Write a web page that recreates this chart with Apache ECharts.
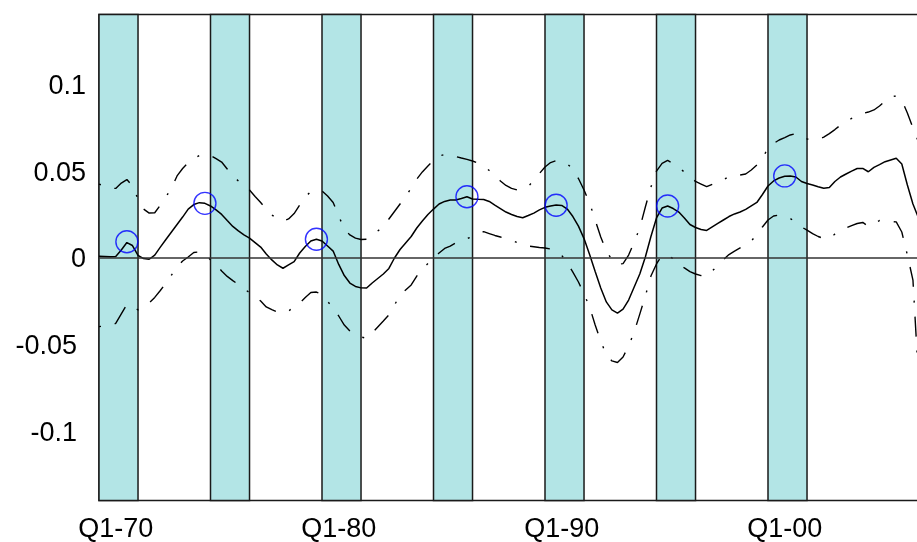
<!DOCTYPE html>
<html><head><meta charset="utf-8">
<script src="https://cdn.jsdelivr.net/npm/echarts@6/dist/echarts.min.js"></script>
<style>html,body{margin:0;padding:0;background:#fff;overflow:hidden;width:917px;height:542px}#c{width:940px;height:542px}</style>
</head><body><div id="c"></div><script>
// Quarterly categories Q2-69 ... (149 quarters)
const startYear = 1969, startQuarter = 2, nQuarters = 149;
const categories = [];
for (let i = 0; i < nQuarters; i++) {
  const k = startQuarter - 1 + i;
  categories.push('Q' + (k % 4 + 1) + '-' + String((startYear + Math.floor(k / 4)) % 100).padStart(2, '0'));
}
const xTickLabels = ['Q1-70', 'Q1-80', 'Q1-90', 'Q1-00'];
const yTickLabels = [-0.1, -0.05, 0, 0.05, 0.1];

const estimate = [
  0.0007, 0.0006, 0.0005, 0.0006, 0.0043, 0.0086, 0.0069, 0.0012, -0.0006, -0.0010,
  0.0014, 0.0060, 0.0104, 0.0147, 0.0190, 0.0233, 0.0279, 0.0305, 0.0316, 0.0312,
  0.0297, 0.0274, 0.0248, 0.0213, 0.0179, 0.0153, 0.0130, 0.0112, 0.0086, 0.0060,
  0.0020, -0.0014, -0.0043, -0.0062, -0.0043, -0.0024, 0.0026, 0.0063, 0.0095, 0.0105,
  0.0095, 0.0066, 0.0037, -0.0040, -0.0104, -0.0147, -0.0167, -0.0175, -0.0176, -0.0147,
  -0.0121, -0.0095, -0.0063, -0.0003, 0.0046, 0.0084, 0.0121, 0.0170, 0.0210, 0.0248,
  0.0279, 0.0308, 0.0323, 0.0331, 0.0331, 0.0340, 0.0350, 0.0337, 0.0335, 0.0334,
  0.0323, 0.0302, 0.0282, 0.0262, 0.0248, 0.0236, 0.0229, 0.0242, 0.0256, 0.0274,
  0.0289, 0.0297, 0.0302, 0.0300, 0.0279, 0.0236, 0.0181, 0.0109, 0.0017, -0.0081,
  -0.0176, -0.0256, -0.0302, -0.0320, -0.0297, -0.0245, -0.0170, -0.0095, 0.0003, 0.0121,
  0.0228, 0.0285, 0.0297, 0.0282, 0.0262, 0.0228, 0.0190, 0.0173, 0.0161, 0.0156,
  0.0176, 0.0196, 0.0216, 0.0236, 0.0251, 0.0262, 0.0277, 0.0297, 0.0317, 0.0363,
  0.0412, 0.0441, 0.0458, 0.0468, 0.0470, 0.0464, 0.0438, 0.0426, 0.0418, 0.0408,
  0.0399, 0.0403, 0.0438, 0.0464, 0.0481, 0.0498, 0.0513, 0.0513, 0.0494, 0.0519,
  0.0535, 0.0552, 0.0562, 0.0572, 0.0539, 0.0418, 0.0308, 0.0228, 0.0120
];
const upperBand = [
  0.0423, 0.0412, 0.0400, 0.0398, 0.0429, 0.0449, 0.0412, 0.0337, 0.0279, 0.0256,
  0.0258, 0.0302, 0.0349, 0.0400, 0.0470, 0.0513, 0.0547, 0.0570, 0.0588, 0.0596,
  0.0588, 0.0570, 0.0550, 0.0510, 0.0470, 0.0441, 0.0418, 0.0389, 0.0351, 0.0317,
  0.0279, 0.0245, 0.0225, 0.0210, 0.0222, 0.0253, 0.0302, 0.0349, 0.0380, 0.0389,
  0.0383, 0.0354, 0.0317, 0.0239, 0.0164, 0.0130, 0.0112, 0.0104, 0.0105, 0.0127,
  0.0153, 0.0177, 0.0222, 0.0265, 0.0308, 0.0351, 0.0400, 0.0452, 0.0493, 0.0527,
  0.0559, 0.0585, 0.0593, 0.0593, 0.0582, 0.0573, 0.0565, 0.0556, 0.0544, 0.0530,
  0.0501, 0.0475, 0.0441, 0.0415, 0.0398, 0.0389, 0.0395, 0.0408, 0.0447, 0.0484,
  0.0521, 0.0547, 0.0558, 0.0553, 0.0539, 0.0510, 0.0455, 0.0389, 0.0314, 0.0216,
  0.0118, 0.0037, -0.0012, -0.0040, -0.0035, 0.0014, 0.0089, 0.0170, 0.0291, 0.0406,
  0.0498, 0.0542, 0.0559, 0.0542, 0.0516, 0.0493, 0.0464, 0.0438, 0.0423, 0.0408,
  0.0421, 0.0429, 0.0447, 0.0467, 0.0472, 0.0475, 0.0481, 0.0504, 0.0533, 0.0570,
  0.0631, 0.0657, 0.0677, 0.0691, 0.0706, 0.0714, 0.0697, 0.0683, 0.0680, 0.0680,
  0.0694, 0.0714, 0.0737, 0.0763, 0.0784, 0.0801, 0.0815, 0.0830, 0.0838, 0.0850,
  0.0873, 0.0902, 0.0928, 0.0930, 0.0907, 0.0833, 0.0746, 0.0665, 0.0580
];
const lowerBand = [
  -0.0398, -0.0395, -0.0392, -0.0380, -0.0325, -0.0271, -0.0285, -0.0302, -0.0285, -0.0262,
  -0.0230, -0.0190, -0.0147, -0.0101, -0.0055, -0.0020, 0.0003, 0.0029, 0.0032, 0.0020,
  -0.0014, -0.0040, -0.0078, -0.0109, -0.0133, -0.0156, -0.0181, -0.0202, -0.0222, -0.0251,
  -0.0285, -0.0300, -0.0314, -0.0320, -0.0308, -0.0285, -0.0262, -0.0230, -0.0202, -0.0199,
  -0.0213, -0.0253, -0.0291, -0.0337, -0.0389, -0.0423, -0.0444, -0.0458, -0.0466, -0.0435,
  -0.0400, -0.0366, -0.0331, -0.0274, -0.0216, -0.0187, -0.0158, -0.0107, -0.0066, -0.0035,
  0.0000, 0.0026, 0.0052, 0.0066, 0.0084, 0.0101, 0.0109, 0.0120, 0.0133, 0.0149,
  0.0138, 0.0127, 0.0118, 0.0109, 0.0101, 0.0086, 0.0072, 0.0066, 0.0062, 0.0058,
  0.0055, 0.0049, 0.0035, 0.0012, -0.0032, -0.0084, -0.0141, -0.0210, -0.0285, -0.0389,
  -0.0481, -0.0562, -0.0596, -0.0605, -0.0573, -0.0510, -0.0429, -0.0326, -0.0222, -0.0107,
  -0.0037, 0.0014, 0.0009, -0.0006, -0.0032, -0.0060, -0.0081, -0.0095, -0.0104, -0.0109,
  -0.0078, -0.0046, -0.0012, 0.0017, 0.0037, 0.0055, 0.0072, 0.0095, 0.0133, 0.0176,
  0.0216, 0.0239, 0.0245, 0.0239, 0.0225, 0.0202, 0.0176, 0.0158, 0.0138, 0.0121,
  0.0109, 0.0109, 0.0135, 0.0156, 0.0170, 0.0184, 0.0196, 0.0202, 0.0179, 0.0196,
  0.0213, 0.0210, 0.0207, 0.0205, 0.0147, 0.0014, -0.0130, -0.0700, -0.1200
];
const shadedStart = ['Q2-69', 'Q2-74', 'Q2-79', 'Q2-84', 'Q2-89', 'Q2-94', 'Q2-99'];
const shadedEnd   = ['Q1-71', 'Q1-76', 'Q1-81', 'Q1-86', 'Q1-91', 'Q1-96', 'Q1-01'];
const markedQuarters = ['Q3-70', 'Q1-74', 'Q1-79', 'Q4-85', 'Q4-89', 'Q4-94', 'Q1-00'];
const markedValues   = [0.0091, 0.0312, 0.0105, 0.0350, 0.0301, 0.0297, 0.0470];

const FONT = '"Liberation Sans", Arial, sans-serif';
const chart = echarts.init(document.getElementById('c'), null, {renderer: 'canvas', width: 940, height: 542});
const dashStyle = {color: '#000', width: 1.4, type: [20, 14, 2, 14], dashOffset: 34};

chart.setOption({
  animation: false,
  backgroundColor: '#fff',
  grid: {left: 99, top: 14.5, width: 825.1, height: 486, show: true, outerBoundsMode: 'none',
         borderColor: '#1a1a1a', borderWidth: 1.5, backgroundColor: 'transparent'},
  xAxis: {
    type: 'category', data: categories, boundaryGap: false,
    axisLine: {show: false}, axisTick: {show: false}, splitLine: {show: false},
    axisLabel: {
      interval: (idx, val) => xTickLabels.includes(val),
      fontSize: 27, color: '#000', fontFamily: FONT, margin: 16
    }
  },
  yAxis: {
    type: 'value', min: -0.14, max: 0.14, interval: 0.01,
    axisLine: {show: false}, axisTick: {show: false}, splitLine: {show: false},
    axisLabel: {
      fontSize: 27, color: '#000', fontFamily: FONT, margin: 13,
      formatter: v => {
        const l = yTickLabels.find(t => Math.abs(t - v) < 1e-6);
        if (l === undefined) return '';
        return (l < 0 ? '{neg|' : '{pos|') + String(l) + '}';
      },
      rich: {
        pos: {fontSize: 27, color: '#000', fontFamily: FONT, padding: [5, 0, 0, 0]},
        neg: {fontSize: 27, color: '#000', fontFamily: FONT, padding: [5, 9, 0, 0]}
      }
    }
  },
  series: [
    {
      type: 'line', data: [], z: 1, silent: true,
      markArea: {
        silent: true,
        itemStyle: {color: '#b3e5e6', borderColor: '#1a1a1a', borderWidth: 1.5},
        data: shadedStart.map((s, i) => [{xAxis: s}, {xAxis: shadedEnd[i]}])
      }
    },
    {
      type: 'line', data: upperBand, symbol: 'none', z: 3, lineStyle: dashStyle
    },
    {
      type: 'line', data: lowerBand, symbol: 'none', z: 3, lineStyle: dashStyle
    },
    {
      type: 'line', data: estimate, symbol: 'none', z: 4,
      lineStyle: {color: '#000', width: 1.5},
      markLine: {
        silent: true, symbol: 'none', label: {show: false},
        lineStyle: {color: '#333', width: 1.6, type: 'solid'},
        data: [{yAxis: 0}]
      }
    },
    {
      type: 'scatter', z: 5, symbol: 'circle', symbolSize: 22,
      data: markedQuarters.map((q, i) => [q, markedValues[i]]),
      itemStyle: {color: 'rgba(0,0,0,0)', borderColor: '#0000ff', borderWidth: 1.4}
    }
  ]
});
</script></body></html>
